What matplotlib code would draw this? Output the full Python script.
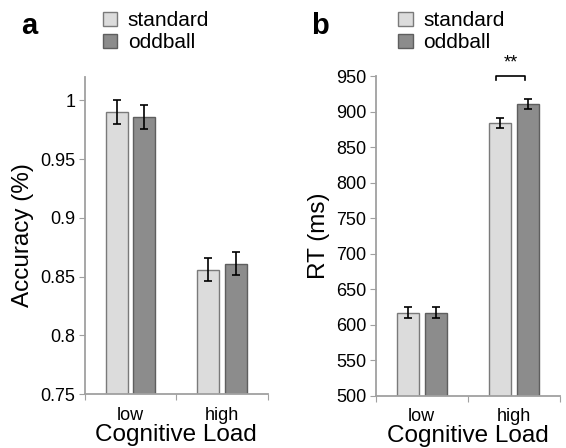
import numpy as np
import matplotlib.pyplot as plt
from matplotlib.patches import Patch

plt.rcParams['font.family'] = ['Liberation Sans', 'DejaVu Sans']

# data
loads = ['low', 'high']
series = ['standard', 'oddball']
acc_std = [0.990, 0.856]
acc_odd = [0.986, 0.861]
acc_std_err = [0.010, 0.010]
acc_odd_err = [0.010, 0.010]
rt_std = [617, 884]
rt_odd = [617, 910]
rt_std_err = [8, 7]
rt_odd_err = [8, 7]

c_std, e_std = '#dcdcdc', '#7a7a7a'
c_odd, e_odd = '#8c8c8c', '#5e5e5e'
axc = '#a0a0a0'

fig = plt.figure(figsize=(5.66, 4.48), dpi=100)
axa = fig.add_axes([0.150, 0.1205, 0.323, 0.7076])
axb = fig.add_axes([0.664, 0.1167, 0.325, 0.7136])

x = np.arange(len(loads))
w = 0.24
off = 0.15


def draw(ax, s, o, se, oe, ylim, yticks, fmt, ylab):
    ax.bar(x - off, s, w, color=c_std, edgecolor=e_std, linewidth=1.0, zorder=2)
    ax.bar(x + off, o, w, color=c_odd, edgecolor=e_odd, linewidth=1.0, zorder=2)
    ax.errorbar(x - off, s, yerr=se, fmt='none', ecolor='black', elinewidth=1.2,
                capsize=3, capthick=1.2, zorder=3)
    ax.errorbar(x + off, o, yerr=oe, fmt='none', ecolor='black', elinewidth=1.2,
                capsize=3, capthick=1.2, zorder=3)
    ax.set_xlim(-0.5, 1.5)
    ax.set_ylim(*ylim)
    ax.set_yticks(yticks)
    ax.set_yticklabels([fmt(v) for v in yticks])
    ax.set_xticks([-0.5, 0.5, 1.5])
    ax.set_xticklabels([])
    ax.set_xticks(x, minor=True)
    ax.set_xticklabels(loads, minor=True)
    ax.tick_params(axis='x', which='minor', length=0, pad=9, labelsize=13)
    ax.tick_params(axis='x', which='major', length=4, color=axc, direction='out')
    ax.tick_params(axis='y', length=4, color=axc, labelsize=13, pad=3)
    for sp in ['top', 'right']:
        ax.spines[sp].set_visible(False)
    for sp in ['left', 'bottom']:
        ax.spines[sp].set_color(axc)
        ax.spines[sp].set_linewidth(1.3)
    ax.set_xlabel('Cognitive Load', fontsize=17.5, labelpad=0)
    ax.set_ylabel(ylab, fontsize=17.5, labelpad=4)


draw(axa, acc_std, acc_odd, acc_std_err, acc_odd_err, (0.75, 1.02),
     [0.75, 0.8, 0.85, 0.9, 0.95, 1.0], lambda v: '%g' % v, 'Accuracy (%)')
draw(axb, rt_std, rt_odd, rt_std_err, rt_odd_err, (500, 950),
     list(range(500, 951, 50)), lambda v: '%d' % v, 'RT (ms)')

# significance bracket on the high-load RT bars
bx0, bx1 = 1 - off - 0.04, 1 + off - 0.03
by, bd = 950, 6
axb.plot([bx0, bx0, bx1, bx1], [by - bd, by, by, by - bd], color='black',
         lw=1.2, clip_on=False)
axb.text((bx0 + bx1) / 2, by + 7, '**', ha='center', va='bottom', fontsize=13,
         clip_on=False)

# panel letters
fig.text(0.037, 0.925, 'a', fontsize=21, fontweight='bold', ha='left', va='baseline')
fig.text(0.549, 0.925, 'b', fontsize=21, fontweight='bold', ha='left', va='baseline')

handles = [Patch(facecolor=c_std, edgecolor=e_std), Patch(facecolor=c_odd, edgecolor=e_odd)]
for bx in [0.174, 0.696]:
    fig.legend(handles, series, loc='upper left', bbox_to_anchor=(bx, 0.984),
               frameon=False, fontsize=15, handlelength=0.7, handleheight=0.7,
               handletextpad=0.5, labelspacing=0.15, borderaxespad=0, borderpad=0.2)

fig.savefig('out.png', dpi=100)
